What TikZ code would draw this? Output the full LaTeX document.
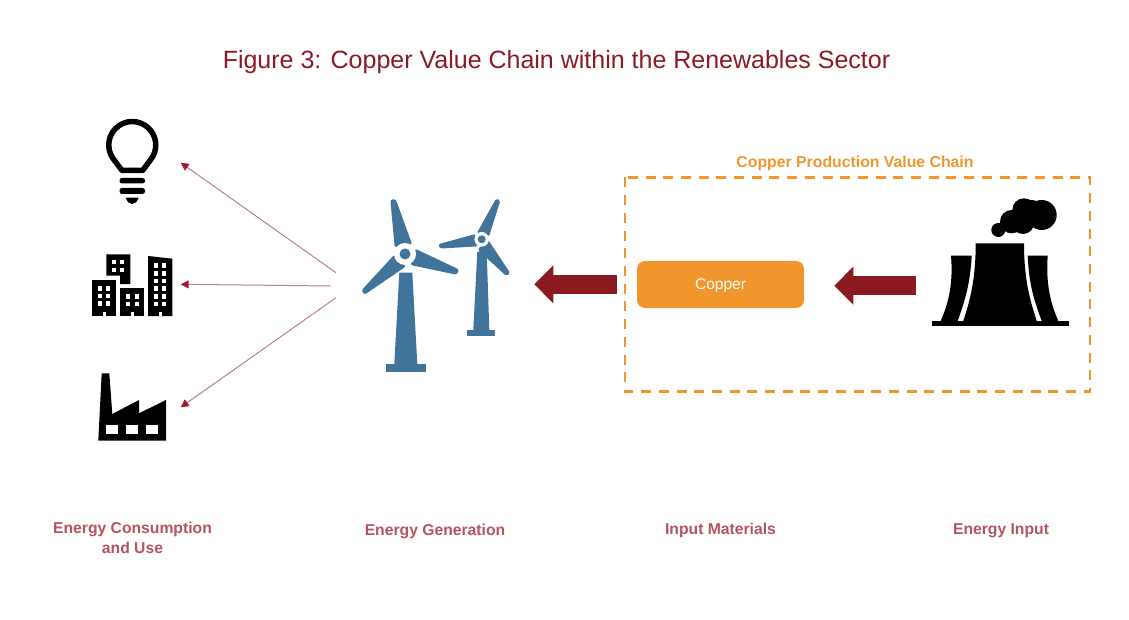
\documentclass[tikz,border=0pt]{standalone}
\usepackage{fontspec}
\setmainfont{Liberation Sans}
\usetikzlibrary{arrows.meta}
\definecolor{titlered}{HTML}{8B1A22}
\definecolor{labelrose}{HTML}{B4545E}
\definecolor{linerose}{HTML}{B98088}
\definecolor{tipred}{HTML}{9E1B2B}
\definecolor{bigred}{HTML}{8A1A20}
\definecolor{chainorange}{HTML}{F0962C}
\definecolor{turbineblue}{HTML}{41749B}
\tikzset{
  steplabel/.style={font=\bfseries\fontsize{15.7}{20}\selectfont, text=labelrose, align=center},
  thinarrow/.style={draw=linerose, line width=1pt, -{Triangle[length=8pt,width=8pt,color=tipred]}},
  bigarrow/.style={draw=bigred, line width=19pt, -{Triangle[length=19pt,width=37pt,color=bigred]}},
  blade/.style={fill=turbineblue, draw=turbineblue, line width=4pt, line join=round},
  windowcol/.style={draw=white, line width=4pt, dash pattern=on 4.5pt off 3.2pt},
}
\begin{document}
\begin{tikzpicture}[x=1pt,y=-1pt]
  \useasboundingbox (0,0) rectangle (1129,620);
  \draw
    (556.5,62) node (title) [text=titlered, font=\fontsize{25}{30}\selectfont] {Figure 3: Copper Value Chain within the Renewables Sector}
    (855,163.5) node (chain) [text=chainorange, font=\bfseries\fontsize{15.8}{20}\selectfont] {Copper Production Value Chain}
    (132.5,537.5) node (use) [steplabel] {Energy Consumption\\and Use}
    (435,531) node (generation) [steplabel] {Energy Generation}
    (720.5,530.5) node (materials) [steplabel] {Input Materials}
    (1001,530.5) node (input) [steplabel] {Energy Input};
  \node (copper) [fill=chainorange, rounded corners=8pt, minimum width=167pt, minimum height=47pt,
    text=white, font=\fontsize{15.5}{18}\selectfont] at (720.5,284.5) {\raisebox{-5.5pt}[0pt][0pt]{Copper}};
  \draw[chainorange, line width=2.6pt, dash pattern=on 10pt off 7.7pt] (625,177.5) rectangle (1090,391.5);
  % bulb
  \draw[line width=5.5pt, line join=round] (122,170.5) -- (113,158.5)
    arc[start angle=215, end angle=-35, radius=23.5pt] -- (142.6,170.5) -- cycle;
  \fill[rounded corners=2.5pt] (119.5,178) rectangle (145,183.5);
  \fill[rounded corners=2.5pt] (119.5,188) rectangle (145,194);
  \fill (125.7,197.7) -- (138.7,197.7) .. controls (137,202) and (135,204) .. (132.2,204) .. controls (129.4,204) and (127.4,202) .. (125.7,197.7) -- cycle;
  % buildings
  \fill (92.3,280) rectangle (116,316);
  \fill (120.3,288.3) rectangle (144,316);
  \fill (106.3,254.3) -- (130.3,254.3) -- (130.3,284) -- (120,284) -- (120,275.7) -- (106.3,275.7) -- cycle;
  \fill (148,256) -- (172.3,258.7) -- (172.3,316) -- (148,316) -- cycle;
  \draw[windowcol] (100.3,286) -- (100.3,308);
  \draw[windowcol] (108.3,286) -- (108.3,308);
  \draw[windowcol] (128.3,294) -- (128.3,308);
  \draw[windowcol] (136.7,294) -- (136.7,308);
  \draw[windowcol] (114.3,260) -- (114.3,274);
  \draw[windowcol] (122.3,260) -- (122.3,274);
  \draw[windowcol] (156,263.3) -- (156,308);
  \draw[windowcol] (164,263.3) -- (164,308);
  \fill[white] (102.7,312) rectangle (106,316);
  \fill[white] (130.7,312) rectangle (134,316);
  \fill[white] (158.5,312) rectangle (161.8,316);
  % factory
  \fill (101.7,373.3) -- (109.3,373.3) -- (112.3,414) -- (139,400) -- (139,413.3) -- (166,400) -- (166,440.7) -- (98.3,440.7) -- cycle;
  \fill[white] (106,425) rectangle (118.3,434);
  \fill[white] (126,425) rectangle (138.3,434);
  \fill[white] (146,425) rectangle (158.3,434);
  % big turbine
  \draw[blade] (392.5,201.5) -- (394.5,201.5) -- (409.5,243) -- (396.5,245) -- cycle;
  \draw[blade] (456.5,270.5) -- (455.5,272.5) -- (413,263.5) -- (416.5,251.5) -- cycle;
  \draw[blade] (364,290.5) -- (365,292) -- (403,266) -- (394.5,257.5) -- cycle;
  \fill[white] (405,254) circle (11);
  \fill[turbineblue] (405,254) circle (5.5);
  \fill[turbineblue] (399.3,272.7) -- (412.3,272.7) -- (417.3,364) -- (394.3,364) -- cycle;
  \fill[turbineblue] (386,364) rectangle (426,372);
  % small turbine
  \draw[blade] (497,201) -- (498,201.5) -- (487.5,234.5) -- (479.5,232.5) -- cycle;
  \draw[blade] (441,245.5) -- (441.5,246.5) -- (475.5,244.5) -- (474,236.5) -- cycle;
  \draw[blade] (507.5,272.5) -- (506.5,273.5) -- (480.5,249.5) -- (487.5,242.5) -- cycle;
  \fill[white] (481.7,239.3) circle (7.3);
  \fill[turbineblue] (481.7,239.3) circle (4);
  \fill[turbineblue] (477.3,251.7) -- (486.7,251.7) -- (489.3,330) -- (473.3,330) -- cycle;
  \fill[turbineblue] (467.3,330) rectangle (495.3,336);
  % cooling towers
  \fill (931.7,320.7) rectangle (1068.7,326.3);
  \fill (951,255.7) -- (971.7,255.7) .. controls (970,285) and (965,300) .. (957.7,321) -- (940.7,321) .. controls (950,300) and (953,280) .. (951,255.7) -- cycle;
  \fill (1027.7,255.7) -- (1047.7,255.7) .. controls (1046,280) and (1049,300) .. (1058.3,321) -- (1041.7,321) .. controls (1034,300) and (1029,285) .. (1027.7,255.7) -- cycle;
  \fill (975.7,243.3) -- (1024,243.3) .. controls (1024,280) and (1030,300) .. (1036.7,321) -- (963.3,321) .. controls (970,300) and (975.7,280) .. (975.7,243.3) -- cycle;
  % smoke
  \fill (998.3,230) circle (7);
  \fill (1011.7,221.7) circle (11.7);
  \fill (1024,210) circle (11.7);
  \fill (1032,213) circle (13);
  \fill (1041.7,215) circle (15);
  \fill (1023,223) circle (11);
  % arrows
  \coordinate (fan1) at (336,272.7);
  \coordinate (fan2) at (330.7,286);
  \coordinate (fan3) at (336,297.7);
  \coordinate (bulbtip) at (180.7,162.7);
  \coordinate (citytip) at (180.7,284.3);
  \coordinate (factorytip) at (180.7,407.3);
  \coordinate (bigtail1) at (616.7,284.3);
  \coordinate (bigtip1) at (534.3,284.3);
  \coordinate (bigtail2) at (916.3,285.7);
  \coordinate (bigtip2) at (834.3,285.7);
  \begin{scope}
    \draw[thinarrow] (fan1) to (bulbtip);
    \draw[thinarrow] (fan2) to (citytip);
    \draw[thinarrow] (fan3) to (factorytip);
    \draw[bigarrow] (bigtail1) to (bigtip1);
    \draw[bigarrow] (bigtail2) to (bigtip2);
  \end{scope}
\end{tikzpicture}
\end{document}
